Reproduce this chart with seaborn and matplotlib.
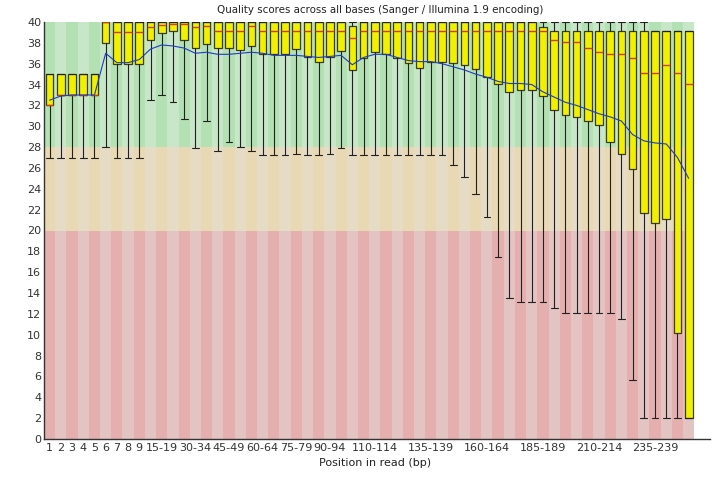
import numpy as np
import matplotlib
matplotlib.use("Agg")
import matplotlib.pyplot as plt
import seaborn as sns

# read positions (FastQC style bins)
positions = [str(i) for i in range(1, 10)] + [f"{s}-{s + 4}" for s in range(10, 250, 5)] + ["250-251"]

# per-position quality stats
low_10 = [27, 27, 27, 27, 27, 28, 27, 27, 27,
          32.5, 33.0, 32.3, 30.7, 27.9, 30.5, 27.6, 28.5, 28.0,
          27.6, 27.2, 27.2, 27.2, 27.3, 27.2, 27.2, 27.3, 27.9, 27.2,
          27.2, 27.2, 27.2, 27.2, 27.2, 27.2, 27.2, 27.2,
          26.3, 25.1, 23.5, 21.3, 17.5, 13.5,
          13.1, 13.1, 13.1, 12.6, 12.1, 12.1, 12.1, 12.1, 12.1, 11.5, 5.7,
          2, 2, 2, 2, 2]
q1 = [32, 33, 33, 33, 33, 38, 36, 36, 36,
      38.3, 38.9, 39.1, 38.3, 37.5, 37.9, 37.5, 37.5, 37.3,
      37.7, 36.9, 36.9, 36.9, 37.4, 36.6, 36.2, 36.6, 37.2, 35.4,
      36.5, 37.1, 36.9, 36.5, 36.1, 35.6, 36.2, 36.2, 36.1, 35.9, 35.5, 34.7, 34.1, 33.3,
      33.5, 33.5, 32.9, 31.6, 31.1, 30.9, 30.5, 30.1, 28.5, 27.3, 25.9, 21.7, 20.7, 21.1, 10.2, 2]
median_q = [32, 33, 33, 33, 33, 40, 39, 39, 39,
            39.5, 39.7, 39.8, 39.8, 39.5, 39.6, 39.1, 39.1, 39.1,
            39.6, 39.1, 39.1, 39.1, 39.1, 39.1, 39.1, 39.1, 39.1, 38.5,
            39.1, 39.1, 39.1, 39.1, 39.1, 39.1, 39.1, 39.1, 39.1, 39.1, 39.1, 39.1, 39.1, 39.1,
            39.1, 39.1, 39.1, 38.3, 38.1, 38.1, 37.5, 37.1, 36.9, 36.9, 36.5, 35.1, 35.1, 35.9, 35.1, 34.1]
q3 = [35, 35, 35, 35, 35] + [40] * 22 + [39.6] + [40] * 16 + [39.5] + [39.1] * 13
high_90 = [35, 35, 35, 35, 35] + [40] * 49 + [39.1] * 4
mean_q = [32.5, 32.9, 33.0, 33.0, 33.0, 37.0, 36.1, 36.1, 36.4,
          37.4, 37.8, 37.7, 37.5, 37.0, 37.1, 36.9, 36.9, 37.0,
          37.1, 37.0, 36.8, 36.8, 36.8, 36.7, 36.6, 36.7, 36.8, 35.9,
          36.6, 36.9, 36.9, 36.6, 36.3, 36.2, 36.2, 36.0, 35.7, 35.4, 35.0, 34.7, 34.3, 34.1,
          34.1, 34.0, 33.3, 32.8, 32.3, 32.0, 31.6, 31.2, 30.9, 30.5, 29.2, 28.6, 28.4, 28.3, 27.0, 25.0]

shown_labels = ["1", "2", "3", "4", "5", "6", "7", "8", "9", "15-19", "30-34", "45-49", "60-64",
                "75-79", "90-94", "110-114", "135-139", "160-164", "185-189", "210-214", "235-239"]

sns.set_style("white")
plt.rcParams['font.family'] = ['DejaVu Sans']

fig = plt.figure(figsize=(7.13, 4.82), dpi=100)
ax = fig.add_axes([44 / 713, 43 / 482, 666 / 713, 417 / 482])

n = len(positions)
x = np.arange(n)

# background quality zones, alternating stripes per position
zones = [(0, 20, ["#e6afaf", "#e4c3c3"]),
         (20, 28, ["#e8d8b4", "#e6dcc6"]),
         (28, 40, ["#b4e1b4", "#c8e6c8"])]
for lo, hi, cols in zones:
    ax.bar(x, hi - lo, bottom=lo, width=1.0, color=[cols[i % 2] for i in x],
           linewidth=0, zorder=0)

stats = []
for i in range(n):
    stats.append({"whislo": low_10[i], "q1": q1[i], "med": median_q[i],
                  "q3": q3[i], "whishi": high_90[i], "fliers": []})
ax.bxp(stats, positions=x, widths=0.68, capwidths=0.6, showfliers=False, patch_artist=True,
       boxprops=dict(facecolor="#f0f000", edgecolor="#3c3c1e", linewidth=0.9),
       medianprops=dict(color="#d04010", linewidth=1.0),
       whiskerprops=dict(color="#202020", linewidth=0.8),
       capprops=dict(color="#202020", linewidth=0.8), manage_ticks=False)

sns.lineplot(x=x, y=mean_q, color="#1e3cc0", linewidth=0.8, ax=ax, zorder=5)

ax.set_xlim(-0.5, 58.9)
ax.set_ylim(0, 40)
ax.set_yticks(range(0, 41, 2))
tick_pos = [positions.index(lab) for lab in shown_labels]
ax.set_xticks(tick_pos)
ax.set_xticklabels(shown_labels)
ax.tick_params(axis="both", length=0, labelsize=8, colors="#333333", pad=3)
ax.tick_params(axis="y", pad=2)
for s in ["top", "right"]:
    ax.spines[s].set_visible(False)
for s in ["left", "bottom"]:
    ax.spines[s].set_color("#333333")
    ax.spines[s].set_linewidth(1.0)
ax.set_xlabel("")
ax.set_ylabel("")

fig.text(380 / 713, 1 - 10 / 482, "Quality scores across all bases (Sanger / Illumina 1.9 encoding)",
         ha="center", va="center", fontsize=7.4, color="#222222")
fig.text(375 / 713, 1 - 463 / 482, "Position in read (bp)", ha="center", va="center",
         fontsize=8, color="#222222")

fig.savefig("out.png", dpi=100)
